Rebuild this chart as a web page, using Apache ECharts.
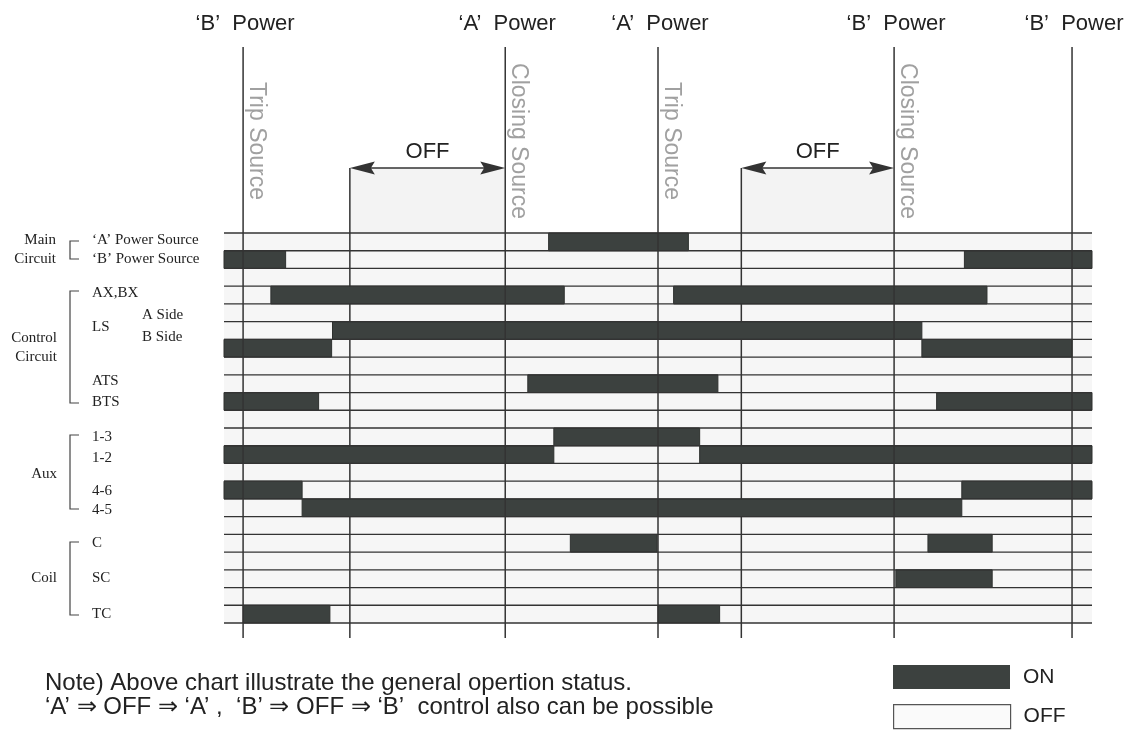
<!DOCTYPE html>
<html>
<head>
<meta charset="utf-8">
<title>Transfer sequence</title>
<script src="https://cdn.jsdelivr.net/npm/echarts@6/dist/echarts.min.js"></script>
<style>
  html, body { margin: 0; padding: 0; background: #fff; }
  #main { width: 1135px; height: 730px; }
</style>
</head>
<body>
<div id="main"></div>
<script>
// time runs 0..100 across the chart, rows are counted from the top
const rowCount = 22

// events on the time line (vertical lines)
const eventTimes = [2.2, 32.4, 50.0, 77.2, 97.7]
const eventPower = ['\u2018B\u2019  Power', '\u2018A\u2019  Power', '\u2018A\u2019  Power', '\u2018B\u2019  Power', '\u2018B\u2019  Power']
const eventNote = ['Trip Source', 'Closing Source', 'Trip Source', 'Closing Source', '']

// OFF periods (arrows)
const offStart = [14.5, 59.6]
const offEnd = [32.4, 77.2]

// ON segments: row, start, end
const onRow = [0, 1, 1, 3, 3, 5, 6, 6, 8, 9, 9, 11, 12, 12, 14, 14, 15, 17, 17, 19, 21, 21]
const onStart = [37.4, 0, 85.3, 5.4, 51.8, 12.5, 0, 80.4, 35.0, 0, 82.1, 38.0, 0, 54.8, 0, 85.0, 9.0, 39.9, 81.1, 77.4, 2.2, 50.0]
const onEnd = [53.5, 7.1, 100, 39.2, 87.9, 80.4, 12.4, 97.7, 56.9, 10.9, 100, 54.8, 38.0, 100, 9.0, 100, 85.0, 49.9, 88.5, 88.5, 12.2, 57.1]

const lineColor = '#333'
const onColor = '#3c413f'
const offColor = '#f6f6f6'

const chartDom = document.getElementById('main')
const chart = echarts.init(chartDom)

const rows = []
for (let i = 0; i < rowCount; i++) rows.push([i])
const borders = []
for (let i = 0; i <= rowCount; i++) borders.push([i])

const onData = onRow.map((r, i) => [r, onStart[i], onEnd[i]])
const eventData = eventTimes.map((t, i) => [t, eventPower[i], eventNote[i]])
const offData = offStart.map((t, i) => [t, offEnd[i]])

// left side labels
const serif = "15px 'Liberation Serif', 'DejaVu Serif', serif"
const sans = "'Liberation Sans', Arial, sans-serif"
const leftLabels = [
  ['Main', 56, 240, 'right'], ['Circuit', 56, 259, 'right'],
  ['\u2018A\u2019 Power Source', 92, 240, 'left'], ['\u2018B\u2019 Power Source', 92, 259, 'left'],
  ['AX,BX', 92, 293, 'left'], ['LS', 92, 327, 'left'],
  ['A Side', 142, 315, 'left'], ['B Side', 142, 337, 'left'],
  ['Control', 57, 338, 'right'], ['Circuit', 57, 357, 'right'],
  ['ATS', 92, 381, 'left'], ['BTS', 92, 402, 'left'],
  ['1-3', 92, 437, 'left'], ['1-2', 92, 458, 'left'], ['Aux', 57, 474, 'right'],
  ['4-6', 92, 491, 'left'], ['4-5', 92, 510, 'left'],
  ['C', 92, 543, 'left'], ['SC', 92, 578, 'left'], ['TC', 92, 614, 'left'], ['Coil', 57, 578, 'right'],
]
const brackets = [[241, 259], [291, 403], [435, 509], [542, 615]]

const graphics = []
leftLabels.forEach(l => {
  graphics.push({
    type: 'text', x: l[1], y: l[2],
    style: { text: l[0], font: serif, fill: '#222', align: l[3], verticalAlign: 'middle' },
  })
})
brackets.forEach(b => {
  graphics.push({
    type: 'polyline',
    shape: { points: [[79, b[0]], [70, b[0]], [70, b[1]], [79, b[1]]] },
    style: { stroke: '#444', lineWidth: 1.2, fill: null },
  })
})
graphics.push({
  type: 'text', x: 45, y: 683,
  style: { text: 'Note) Above chart illustrate the general opertion status.', font: '24px ' + sans, fill: '#222', verticalAlign: 'middle' },
})
graphics.push({
  type: 'text', x: 45, y: 707,
  style: { text: '\u2018A\u2019 \u21D2 OFF \u21D2 \u2018A\u2019 ,  \u2018B\u2019 \u21D2 OFF \u21D2 \u2018B\u2019  control also can be possible', font: '24px ' + sans, fill: '#222', verticalAlign: 'middle' },
})

const legendBase = {
  left: 893,
  padding: 0,
  itemWidth: 117,
  itemHeight: 24,
  selectedMode: false,
  textStyle: { fontSize: 21, fontFamily: 'Liberation Sans', color: '#222', padding: [0, 0, 0, 8] },
}

const option = {
  animation: false,
  backgroundColor: '#fff',
  grid: { left: 224, right: 43, top: 233, bottom: 107 },
  xAxis: { type: 'value', min: 0, max: 100, show: false },
  yAxis: { type: 'value', min: 0, max: rowCount, inverse: true, show: false },
  legend: [
    Object.assign({}, legendBase, {
      top: 665,
      data: [{ name: 'ON', icon: 'rect', itemStyle: { color: onColor, borderWidth: 0 } }],
    }),
    Object.assign({}, legendBase, {
      top: 704,
      data: [{ name: 'OFF', icon: 'rect', itemStyle: { color: '#fafafa', borderColor: '#555', borderWidth: 1.2 } }],
    }),
  ],
  graphic: graphics,
  series: [
    {
      // row background = OFF state
      name: 'OFF',
      type: 'custom',
      z: 1,
      silent: true,
      itemStyle: { color: offColor },
      data: rows,
      renderItem: (params, api) => {
        const r = api.value(0)
        const p0 = api.coord([0, r])
        const p1 = api.coord([100, r + 1])
        return {
          type: 'rect',
          shape: { x: p0[0], y: p0[1], width: p1[0] - p0[0], height: p1[1] - p0[1] },
          style: { fill: offColor },
        }
      },
    },
    {
      // OFF periods above the chart
      type: 'custom',
      z: 2,
      silent: true,
      clip: false,
      data: offData,
      renderItem: (params, api) => {
        const a = api.coord([api.value(0), 0])
        const b = api.coord([api.value(1), rowCount])
        const yArrow = a[1] - 65
        return {
          type: 'group',
          children: [
            { type: 'rect', shape: { x: a[0], y: yArrow, width: b[0] - a[0], height: a[1] - yArrow }, style: { fill: '#f3f3f3' } },
            { type: 'line', shape: { x1: a[0], y1: yArrow, x2: a[0], y2: b[1] + 15 }, style: { stroke: lineColor, lineWidth: 1.5 } },
            { type: 'line', shape: { x1: a[0] + 10, y1: yArrow, x2: b[0] - 10, y2: yArrow }, style: { stroke: lineColor, lineWidth: 1.5 } },
            { type: 'polygon', shape: { points: [[a[0], yArrow], [a[0] + 25, yArrow - 6.5], [a[0] + 21, yArrow], [a[0] + 25, yArrow + 6.5]] }, style: { fill: '#333' } },
            { type: 'polygon', shape: { points: [[b[0], yArrow], [b[0] - 25, yArrow - 6.5], [b[0] - 21, yArrow], [b[0] - 25, yArrow + 6.5]] }, style: { fill: '#333' } },
            {
              type: 'text', x: (a[0] + b[0]) / 2, y: yArrow - 16,
              style: { text: 'OFF', font: '22px ' + sans, fill: '#222', align: 'center', verticalAlign: 'middle' },
            },
          ],
        }
      },
    },
    {
      name: 'ON',
      type: 'custom',
      z: 3,
      silent: true,
      itemStyle: { color: onColor },
      data: onData,
      renderItem: (params, api) => {
        const r = api.value(0)
        const p0 = api.coord([api.value(1), r])
        const p1 = api.coord([api.value(2), r + 1])
        return {
          type: 'rect',
          shape: { x: p0[0], y: p0[1], width: p1[0] - p0[0], height: p1[1] - p0[1] },
          style: { fill: onColor, stroke: '#2e312f', lineWidth: 1 },
        }
      },
    },
    {
      // row borders
      type: 'custom',
      z: 4,
      silent: true,
      clip: false,
      data: borders,
      renderItem: (params, api) => {
        const p0 = api.coord([0, api.value(0)])
        const p1 = api.coord([100, api.value(0)])
        return {
          type: 'line',
          shape: { x1: p0[0], y1: p0[1], x2: p1[0], y2: p1[1] },
          style: { stroke: lineColor, lineWidth: 1.3 },
        }
      },
    },
    {
      // power source events
      type: 'custom',
      z: 5,
      silent: true,
      clip: false,
      data: eventData,
      dimensions: ['time', 'power', 'note'],
      encode: { x: 0 },
      renderItem: (params, api) => {
        const top = api.coord([api.value(0), 0])
        const bottom = api.coord([api.value(0), rowCount])
        const d = eventData[params.dataIndex]
        return {
          type: 'group',
          children: [
            { type: 'line', shape: { x1: top[0], y1: top[1] - 186, x2: top[0], y2: bottom[1] + 15 }, style: { stroke: lineColor, lineWidth: 1.5 } },
            {
              type: 'text', x: top[0] + 2, y: top[1] - 209,
              style: { text: d[1], font: '22px ' + sans, fill: '#222', align: 'center', verticalAlign: 'middle' },
            },
            {
              type: 'text', x: top[0] + 13, y: top[1] - 92, rotation: -Math.PI / 2,
              style: { text: d[2], font: '23px ' + sans, fill: '#a0a0a0', align: 'center', verticalAlign: 'middle' },
            },
          ],
        }
      },
    },
  ],
}

chart.setOption(option)
</script>
</body>
</html>
